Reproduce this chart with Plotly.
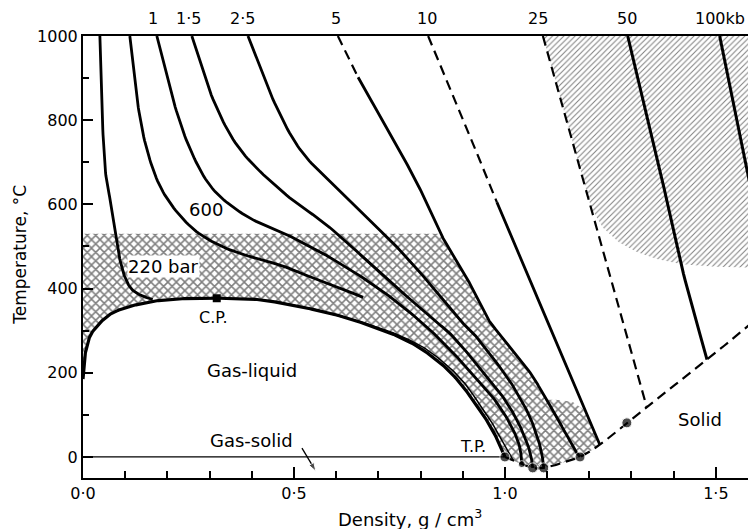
import numpy as np
import plotly.graph_objects as go

# ---------------- data (density g/cm3, temperature C) ----------------
dome_x = [0.0, 0.003, 0.009, 0.018, 0.033, 0.05, 0.071, 0.10, 0.128, 0.175, 0.24, 0.317,
          0.40, 0.45, 0.514, 0.57, 0.633, 0.70, 0.75, 0.80, 0.853, 0.89, 0.917, 0.945,
          0.967, 0.985, 1.0]
dome_t = [185, 230, 262, 290, 310, 328, 343, 354, 362, 371, 376, 377,
          375, 369, 357, 345, 328, 305, 285, 258, 218, 180, 145, 105,
          70, 35, 0]

bar220_vap_x = [0.040, 0.044, 0.052, 0.064, 0.076, 0.092, 0.111, 0.135, 0.165]
bar220_vap_t = [1000, 850, 690, 612, 532, 450, 404, 385, 374]
bar220_liq_x = [0.46, 0.53, 0.645, 0.715, 0.765, 0.815, 0.866, 0.903, 0.93, 0.958, 0.978, 0.998, 1.02]
bar220_liq_t = [369, 355, 325, 302, 282, 255, 215, 177, 140, 100, 66, 30, -9]

bar600_x = [0.111, 0.128, 0.152, 0.19, 0.254, 0.325, 0.396, 0.467, 0.514, 0.60, 0.664]
bar600_t = [1000, 850, 728, 629, 548, 502, 476, 456, 437, 405, 379]

kb1_x = [0.175, 0.213, 0.254, 0.308, 0.389, 0.467, 0.585, 0.704, 0.80, 0.87, 0.92, 0.965, 1.0, 1.024, 1.036, 1.04]
kb1_t = [1000, 850, 731, 636, 571, 536, 474, 398, 322, 255, 200, 150, 100, 55, 20, -17]

kb15_x = [0.258, 0.308, 0.372, 0.474, 0.585, 0.704, 0.822, 0.875, 0.95, 0.99, 1.022, 1.046, 1.06, 1.066]
kb15_t = [1000, 850, 731, 629, 545, 438, 333, 288, 200, 150, 100, 50, 10, -26]

kb25_x = [0.391, 0.450, 0.514, 0.60, 0.711, 0.799, 0.886, 0.93, 0.998, 1.03, 1.057, 1.076, 1.087, 1.092]
kb25_t = [1000, 850, 731, 640, 533, 438, 333, 288, 200, 150, 100, 50, 10, -26]

kb5_x = [0.604, 0.652, 0.704, 0.76, 0.799, 0.846, 0.903, 0.957, 0.99, 1.06, 1.09, 1.12, 1.147, 1.167, 1.178]
kb5_t = [1000, 902, 810, 710, 636, 533, 438, 333, 288, 200, 150, 100, 50, 15, 0]
kb5_dash_above = 902

kb10_x = [0.818, 0.90, 0.981, 1.059, 1.14, 1.225]
kb10_t = [1000, 805, 605, 421, 228, 29]
kb10_dash_above = 605

kb25b_x = [1.090, 1.242, 1.336]
kb25b_t = [1000, 452, 119]

kb50_x = [1.291, 1.36, 1.419, 1.479]
kb50_t = [1000, 715, 452, 231]

kb100_x = [1.509, 1.588]
kb100_t = [1000, 612]

melt_x = [1.0, 1.02, 1.04, 1.066, 1.092, 1.13, 1.178, 1.225, 1.289, 1.336, 1.479, 1.588]
melt_t = [0, -9, -17, -26, -26, -16, 0, 29, 81, 119, 231, 321]

dots_x = [1.0, 1.04, 1.066, 1.092, 1.178, 1.289]
dots_t = [0, -17, -26, -26, 0, 81]
dots_size = [10, 7, 10, 10, 10, 10]

cp_x, cp_t = 0.317, 377

hatch_top_t = 530
patch_x = [1.12, 1.16, 1.185, 1.201]
patch_t = [136, 131, 114, 85]
patch_start_t = 136

diag_x = [1.090, 1.189, 1.205, 1.232, 1.27, 1.313, 1.36, 1.419, 1.50, 1.588, 1.588]
diag_t = [1000, 643, 590, 545, 510, 487, 470, 458, 452, 450, 1000]

arrow_x = [0.519, 0.552]
arrow_t = [21, -34]

top_labels = ["1", "1·5", "2·5", "5", "10", "25", "50", "100kb"]
top_label_x = [0.166, 0.249, 0.379, 0.600, 0.815, 1.078, 1.289, 1.509]

xtick_vals = [0.0, 0.5, 1.0, 1.5]
xtick_text = ["0·0", "0·5", "1·0", "1·5"]
ytick_vals = [0, 200, 400, 600, 800, 1000]

X_RANGE = [0, 1.588]
Y_RANGE = [-50, 1000]


# ---------------- helpers ----------------
def smooth(xs, ts, n=14):
    sx, st = 1.6, 1050.0
    P = np.column_stack([np.array(xs, float) / sx, np.array(ts, float) / st])
    if len(P) < 3:
        return np.array(xs, float), np.array(ts, float)
    P = np.vstack([2 * P[0] - P[1], P, 2 * P[-1] - P[-2]])
    out = []
    for i in range(1, len(P) - 2):
        p0, p1, p2, p3 = P[i - 1], P[i], P[i + 1], P[i + 2]
        for t in np.linspace(0, 1, n, endpoint=False):
            t2, t3 = t * t, t * t * t
            out.append(0.5 * ((2 * p1) + (-p0 + p2) * t + (2 * p0 - 5 * p1 + 4 * p2 - p3) * t2
                              + (-p0 + 3 * p1 - 3 * p2 + p3) * t3))
    out.append(P[-2])
    out = np.array(out)
    return out[:, 0] * sx, out[:, 1] * st


def x_at(sx, st, T):
    order = np.argsort(st)
    return float(np.interp(T, st[order], sx[order]))


fig = go.Figure()

dx, dt = smooth(dome_x, dome_t)
k5x, k5t = smooth(kb5_x, kb5_t)
k10x, k10t = smooth(kb10_x, kb10_t)
mx, mt = smooth(melt_x, melt_t)

# ---------------- cross-hatched region ----------------
px = [0.0, x_at(k5x, k5t, hatch_top_t)]
pt = [hatch_top_t, hatch_top_t]
sel = (k5t < hatch_top_t) & (k5t > patch_start_t)
px += list(k5x[sel]); pt += list(k5t[sel])
px.append(x_at(k5x, k5t, patch_start_t)); pt.append(patch_start_t)
px += patch_x; pt += patch_t
sel = k10t < patch_t[-1]
px += list(k10x[sel]); pt += list(k10t[sel])
sel = mx <= kb10_x[-1] + 1e-9
px += list(mx[sel][::-1]); pt += list(mt[sel][::-1])
px += list(dx[::-1]); pt += list(dt[::-1])
px.append(0.0); pt.append(hatch_top_t)

fig.add_trace(go.Scatter(x=px, y=pt, mode="lines", fill="toself",
                         line=dict(width=0, color="rgba(0,0,0,0)"),
                         fillcolor="white",
                         fillpattern=dict(shape="x", size=6, solidity=0.45,
                                          fgcolor="black", bgcolor="white"),
                         hoverinfo="skip", showlegend=False))

fig.add_trace(go.Scatter(x=diag_x, y=diag_t, mode="lines", fill="toself",
                         line=dict(width=0, color="rgba(0,0,0,0)"),
                         fillcolor="white",
                         fillpattern=dict(shape="/", size=4, solidity=0.25,
                                          fgcolor="black", bgcolor="white"),
                         hoverinfo="skip", showlegend=False))


def add_line(xs, ts, width=2.8, dash="solid", do_smooth=True):
    if do_smooth:
        xs, ts = smooth(xs, ts)
    fig.add_trace(go.Scatter(x=xs, y=ts, mode="lines",
                             line=dict(color="black", width=width, dash=dash),
                             hoverinfo="skip", showlegend=False))


DASH = "10px,6px"

add_line([0.0, 1.0], [0, 0], width=1.3, do_smooth=False)

fig.add_trace(go.Scatter(x=dx, y=dt, mode="lines", line=dict(color="black", width=3.2),
                         hoverinfo="skip", showlegend=False))

add_line(bar220_vap_x, bar220_vap_t)
add_line(bar220_liq_x, bar220_liq_t, width=1.5)
add_line(bar600_x, bar600_t)
add_line(kb1_x, kb1_t)
add_line(kb15_x, kb15_t)
add_line(kb25_x, kb25_t)

m = k5t >= kb5_dash_above
fig.add_trace(go.Scatter(x=k5x[m], y=k5t[m], mode="lines",
                         line=dict(color="black", width=2.2, dash=DASH),
                         hoverinfo="skip", showlegend=False))
m = k5t <= kb5_dash_above
fig.add_trace(go.Scatter(x=k5x[m], y=k5t[m], mode="lines",
                         line=dict(color="black", width=2.8),
                         hoverinfo="skip", showlegend=False))

m = k10t >= kb10_dash_above
fig.add_trace(go.Scatter(x=k10x[m], y=k10t[m], mode="lines",
                         line=dict(color="black", width=2.2, dash=DASH),
                         hoverinfo="skip", showlegend=False))
m = k10t <= kb10_dash_above
fig.add_trace(go.Scatter(x=k10x[m], y=k10t[m], mode="lines",
                         line=dict(color="black", width=2.8),
                         hoverinfo="skip", showlegend=False))

add_line(kb25b_x, kb25b_t, width=2.2, dash=DASH, do_smooth=False)
add_line(kb50_x, kb50_t, width=3.0)
add_line(kb100_x, kb100_t, width=3.0, do_smooth=False)

fig.add_trace(go.Scatter(x=mx, y=mt, mode="lines",
                         line=dict(color="black", width=2.2, dash=DASH),
                         hoverinfo="skip", showlegend=False))

fig.add_trace(go.Scatter(x=dots_x, y=dots_t, mode="markers",
                         marker=dict(color="black", size=dots_size),
                         hoverinfo="skip", showlegend=False))
fig.add_trace(go.Scatter(x=[cp_x], y=[cp_t], mode="markers",
                         marker=dict(color="black", size=8, symbol="square"),
                         hoverinfo="skip", showlegend=False))

fig.add_trace(go.Scatter(x=arrow_x, y=arrow_t, mode="lines+markers",
                         line=dict(color="black", width=1.3),
                         marker=dict(color="black", size=[0, 9], symbol=["circle", "arrow"],
                                     angleref="previous"),
                         hoverinfo="skip", showlegend=False))

FONT = "DejaVu Sans"
ann = []
for t, x in zip(top_labels, top_label_x):
    ann.append(dict(x=x, y=1, xref="x", yref="paper", text=t, showarrow=False,
                    xanchor="center", yanchor="middle", yshift=18,
                    font=dict(size=16, family=FONT, color="black")))

labels = [("220 bar", 0.190, 452, "white"), ("600", 0.291, 588, None), ("C.P.", 0.310, 331, None),
          ("Gas-liquid", 0.40, 205, None), ("Gas-solid", 0.40, 38, None),
          ("T.P.", 0.924, 26, None), ("Solid", 1.462, 88, None)]
for text, x, y, bg in labels:
    d = dict(x=x, y=y, xref="x", yref="y", text=text, showarrow=False,
             xanchor="center", yanchor="middle",
             font=dict(size=18 if text not in ("C.P.", "T.P.") else 16, family=FONT, color="black"))
    if bg:
        d["bgcolor"] = bg
        d["borderpad"] = 0
    ann.append(d)

ann.append(dict(x=0.488, y=-0.09, xref="paper", yref="paper", text="Density, g / cm<sup>3</sup>",
                showarrow=False, xanchor="center", yanchor="middle",
                font=dict(size=18, family=FONT, color="black")))
ann.append(dict(x=-0.094, y=0.505, xref="paper", yref="paper", text="Temperature, °C",
                showarrow=False, textangle=-90, xanchor="center", yanchor="middle",
                font=dict(size=17, family=FONT, color="black")))

# page body has an 8px default margin: size the figure so the plot area lands
# where the reference has it inside the 756x529 window
fig.update_layout(
    width=748, height=521,
    margin=dict(l=75, r=3, t=28, b=51),
    paper_bgcolor="white", plot_bgcolor="white",
    showlegend=False,
    annotations=ann,
    font=dict(family=FONT, color="black"),
)
fig.update_xaxes(range=X_RANGE, showline=True, linecolor="black", linewidth=2, mirror=True,
                 ticks="inside", ticklen=11, tickwidth=1.5, tickcolor="black",
                 tickvals=xtick_vals, ticktext=xtick_text, tickfont=dict(size=16, family=FONT),
                 minor=dict(dtick=0.1, tick0=0, ticks="inside", ticklen=7, tickwidth=1.5, tickcolor="black"),
                 showgrid=False, zeroline=False, automargin=False)
fig.update_yaxes(range=Y_RANGE, showline=True, linecolor="black", linewidth=2, mirror=True,
                 ticks="inside", ticklen=10, tickwidth=1.5, tickcolor="black",
                 tickvals=ytick_vals, tickfont=dict(size=16, family=FONT),
                 minor=dict(dtick=100, tick0=0, ticks="inside", ticklen=6, tickwidth=1.5, tickcolor="black"),
                 showgrid=False, zeroline=False, automargin=False)

fig.write_html("out.html")
